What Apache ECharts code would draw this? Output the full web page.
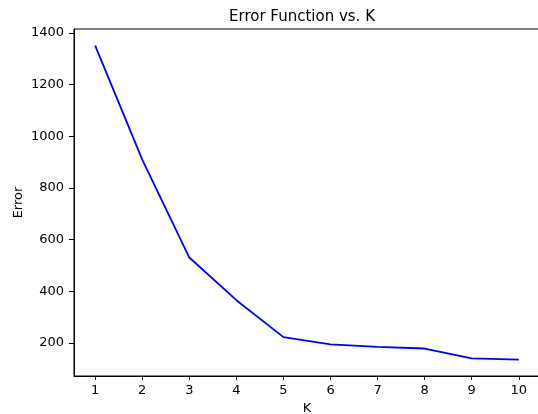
<!DOCTYPE html>
<html>
<head>
<meta charset="utf-8">
<script src="https://cdn.jsdelivr.net/npm/echarts@6/dist/echarts.min.js"></script>
<style>
  html, body { margin: 0; padding: 0; background: #fff; }
  #chart { width: 538px; height: 414px; }
</style>
</head>
<body>
<div id="chart"></div>
<script>
// K values and the error for each
const kValues = [1, 2, 3, 4, 5, 6, 7, 8, 9, 10];
const errors = [1351, 910, 531, 366, 223, 195, 185, 179, 141, 136];
const yTicks = [200, 400, 600, 800, 1000, 1200, 1400];

const font = 'DejaVu Sans';
const chart = echarts.init(document.getElementById('chart'));

chart.setOption({
    animation: false,
    title: {
        text: 'Error Function vs. K',
        left: 297,
        textAlign: 'center',
        top: 5,
        textStyle: { fontFamily: font, fontSize: 15, fontWeight: 'normal', color: '#000' }
    },
    grid: {
        left: 74, right: -2, top: 29, bottom: 38,
        outerBoundsMode: 'none',
        containLabel: false,
        show: true, borderColor: '#000', borderWidth: 1
    },
    xAxis: {
        type: 'value',
        min: 0.55, max: 10.45,
        name: 'K',
        nameLocation: 'middle',
        nameGap: 26,
        nameMoveOverlap: false,
        nameTextStyle: { fontFamily: font, fontSize: 13, color: '#000' },
        splitLine: { show: false },
        axisLine: { lineStyle: { color: '#000', width: 1 } },
        axisTick: { length: 4, lineStyle: { color: '#000' }, customValues: kValues },
        axisLabel: { fontFamily: font, fontSize: 13, color: '#000', margin: 8, customValues: kValues }
    },
    yAxis: {
        type: 'value',
        min: 72.7, max: 1415,
        name: 'Error',
        nameLocation: 'middle',
        nameGap: 49,
        nameMoveOverlap: false,
        nameTextStyle: { fontFamily: font, fontSize: 13, color: '#000' },
        splitLine: { show: false },
        axisLine: { show: true, lineStyle: { color: '#000', width: 1 } },
        axisTick: { show: true, length: 5, lineStyle: { color: '#000' }, customValues: yTicks },
        axisLabel: {
            fontFamily: font, fontSize: 13, color: '#000', margin: 10,
            customValues: yTicks, formatter: (v) => String(v)
        }
    },
    series: [{
        type: 'line',
        data: kValues.map((k, i) => [k, errors[i]]),
        showSymbol: false,
        lineStyle: { color: '#0000ff', width: 1.8 }
    }]
});
</script>
</body>
</html>
